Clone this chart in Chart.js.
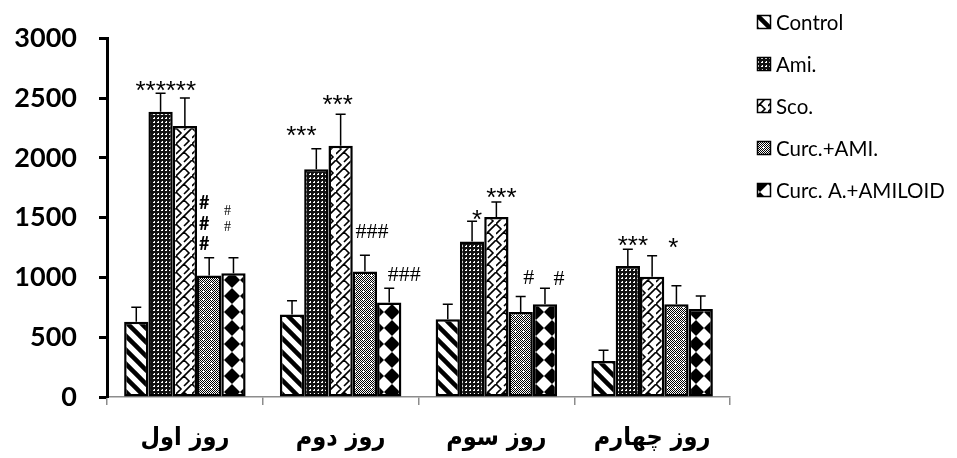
<!DOCTYPE html>
<html>
<head>
<meta charset="utf-8">
<script src="https://cdn.jsdelivr.net/npm/chart.js@4.4.1/dist/chart.umd.min.js"></script>
<style>
  html, body { margin: 0; padding: 0; background: #fff; }
  #wrap { width: 957px; height: 458px; }
</style>
</head>
<body>
<div id="wrap"><canvas id="c" width="957" height="458"></canvas></div>
<script>
// Days of the test
const categories = ['روز اول', 'روز دوم', 'روز سوم', 'روز چهارم'];
const seriesNames = ['Control', 'Ami.', 'Sco.', 'Curc.+AMI.', 'Curc. A.+AMILOID'];
const yTicks = [0, 500, 1000, 1500, 2000, 2500, 3000];

// Means per group
const control = [630, 690, 650, 300];
const ami = [2385, 1905, 1300, 1095];
const sco = [2265, 2100, 1505, 1005];
const curcAmi = [1015, 1050, 710, 775];
const curcA = [1035, 790, 775, 735];

// Error (upper whisker) per group
const controlErr = [120, 115, 125, 90];
const amiErr = [155, 170, 170, 140];
const scoErr = [235, 265, 125, 175];
const curcAmiErr = [150, 135, 130, 155];
const curcAErr = [130, 120, 135, 110];

// Significance marks: [series index, group index, text lines]
const marks = [
  [1, 0, ['***']], [2, 0, ['***']], [3, 0, ['#', '#', '#']], [4, 0, ['#', '#']],
  [1, 1, ['***']], [2, 1, ['***']], [3, 1, ['###']], [4, 1, ['###']],
  [1, 2, ['*']], [2, 2, ['***']], [3, 2, ['#']], [4, 2, ['#']],
  [1, 3, ['***']], [3, 3, ['*']]
];

// Placement of each mark relative to its bar centre / whisker top (px)
const STAR = '26px "Liberation Sans"';
const markStyle = [
  { dx: -10, dy: -1, font: STAR, lh: 0 },
  { dx: -4, dy: -6, font: STAR, lh: 0 },
  { dx: -5, dy: -13, font: 'bold 18px Lato', lh: 20.5 },
  { dx: -6, dy: -30, font: '14px "Liberation Serif"', lh: 16 },
  { dx: -15, dy: -12, font: STAR, lh: 0 },
  { dx: -3, dy: -8, font: STAR, lh: 0 },
  { dx: 7, dy: -23, font: '22px "Liberation Serif"', lh: 0 },
  { dx: 15, dy: -13, font: '22px "Liberation Serif"', lh: 0 },
  { dx: 5, dy: 0, font: STAR, lh: 0 },
  { dx: 5, dy: -3, font: STAR, lh: 0 },
  { dx: 8, dy: -18, font: '22px "Liberation Serif"', lh: 0 },
  { dx: 14, dy: -9, font: '22px "Liberation Serif"', lh: 0 },
  { dx: 5, dy: -2, font: STAR, lh: 0 },
  { dx: -3, dy: -37, font: STAR, lh: 0 }
];

const canvas = document.getElementById('c');
const ctx = canvas.getContext('2d');

function tile(size, draw) {
  const t = document.createElement('canvas');
  t.width = size; t.height = size;
  const g = t.getContext('2d');
  g.fillStyle = '#fff';
  g.fillRect(0, 0, size, size);
  draw(g, size);
  return ctx.createPattern(t, 'repeat');
}

// Fill patterns for the five groups
const patterns = [
  // diagonal stripes
  tile(14, (g, s) => {
    g.strokeStyle = '#000'; g.lineWidth = 4.5;
    for (let k = -s; k <= s; k += s) {
      g.beginPath(); g.moveTo(k - 2, -2); g.lineTo(k + s + 2, s + 2); g.stroke();
    }
  }),
  // dark mesh
  tile(4, (g, s) => {
    g.fillStyle = '#111'; g.fillRect(0, 0, s, s);
    g.fillStyle = '#fff'; g.fillRect(1, 1, 2, 2);
    g.fillStyle = '#333'; g.fillRect(1, 1, 1, 1);
  }),
  // zigzag
  tile(16, (g, s) => {
    g.strokeStyle = '#000'; g.lineWidth = 1.6;
    g.beginPath();
    g.moveTo(0, 16); g.lineTo(16, 0);
    g.moveTo(0, 0); g.lineTo(5, 5); g.lineTo(0, 10);
    g.moveTo(16, 0); g.lineTo(21, 5);
    g.moveTo(8, 8); g.lineTo(13, 13); g.lineTo(8, 18);
    g.moveTo(8, -8); g.lineTo(13, -3); g.lineTo(8, 2);
    g.stroke();
  }),
  // grey dotted with white specks
  tile(8, (g, s) => {
    g.fillStyle = '#000';
    for (let y = 0; y < s; y++) for (let x = 0; x < s; x++) if ((x + y) % 2 === 0) g.fillRect(x, y, 1, 1);
    g.fillStyle = '#fff';
    g.fillRect(3, 2, 1, 3); g.fillRect(2, 3, 3, 1);
  }),
  // diamonds
  tile(16, (g, s) => {
    g.fillStyle = '#000';
    g.beginPath(); g.moveTo(8, 0); g.lineTo(16, 8); g.lineTo(8, 16); g.lineTo(0, 8); g.closePath(); g.fill();
  })
];

const values = [control, ami, sco, curcAmi, curcA];
const errors = [controlErr, amiErr, scoErr, curcAmiErr, curcAErr];

const errorBars = {
  id: 'errorBars',
  afterDatasetsDraw(chart) {
    const y = chart.scales.y;
    const c = chart.ctx;
    c.save();
    c.strokeStyle = '#000';
    c.lineWidth = 1.5;
    chart.data.datasets.forEach((ds, i) => {
      chart.getDatasetMeta(i).data.forEach((bar, j) => {
        const top = y.getPixelForValue(ds.data[j] + errors[i][j]);
        c.beginPath();
        c.moveTo(bar.x, bar.y);
        c.lineTo(bar.x, top);
        c.moveTo(bar.x - 5, top);
        c.lineTo(bar.x + 5, top);
        c.stroke();
      });
    });
    // significance marks
    c.fillStyle = '#000';
    c.textAlign = 'center';
    c.textBaseline = 'middle';
    marks.forEach(([si, gi, lines], k) => {
      const st = markStyle[k];
      const bar = chart.getDatasetMeta(si).data[gi];
      const top = y.getPixelForValue(values[si][gi] + errors[si][gi]);
      c.font = st.font;
      const n = lines.length;
      lines.forEach((t, li) => {
        const yy = top + st.dy - (n - 1 - li) * st.lh;
        c.fillText(t, bar.x + st.dx, yy);
      });
    });
    c.restore();
  }
};

const sideLegend = {
  id: 'sideLegend',
  afterDraw(chart) {
    const c = chart.ctx;
    c.save();
    c.font = '20.5px Lato';
    c.textBaseline = 'middle';
    c.textAlign = 'left';
    seriesNames.forEach((name, i) => {
      const yc = 22 + i * 42;
      c.fillStyle = patterns[i];
      c.fillRect(757, yc - 7, 14, 14);
      c.strokeStyle = '#000';
      c.lineWidth = 1.5;
      c.strokeRect(757.5, yc - 6.5, 13, 13);
      c.fillStyle = '#000';
      c.fillText(name, 776, yc + 1);
    });
    c.restore();
  }
};

new Chart(ctx, {
  type: 'bar',
  data: {
    labels: categories,
    datasets: seriesNames.map((name, i) => ({
      label: name,
      data: values[i],
      backgroundColor: patterns[i],
      borderColor: '#000',
      borderWidth: 2.5,
      borderSkipped: false,
      barPercentage: 1,
      categoryPercentage: 0.78
    }))
  },
  options: {
    responsive: false,
    animation: false,
    devicePixelRatio: 1,
    layout: { padding: { top: 33, right: 227, left: 0, bottom: 0 } },
    plugins: { legend: { display: false }, tooltip: { enabled: false } },
    scales: {
      x: {
        grid: { display: true, drawOnChartArea: false, drawTicks: true, tickLength: 8, color: '#8c8c8c', lineWidth: 1.5, offset: true },
        border: { color: '#8c8c8c', width: 1.5 },
        ticks: { color: '#000', font: { family: '"DejaVu Sans Condensed", "DejaVu Sans"', size: 25, weight: 'bold' }, padding: 18, maxRotation: 0 },
        afterFit(s) { s.height = 61; }
      },
      y: {
        min: 0, max: 3000,
        afterBuildTicks(s) { s.ticks = yTicks.map(v => ({ value: v })); },
        grid: { drawOnChartArea: false, drawTicks: true, tickLength: 8, color: '#000', tickColor: '#000', tickWidth: 3 },
        border: { color: '#000', width: 3 },
        ticks: { color: '#000', font: { family: 'Lato', size: 27, weight: 'bold' }, padding: 22, callback: (v) => String(v) },
        afterFit(s) { s.width = 107; }
      }
    }
  },
  plugins: [errorBars, sideLegend]
});
</script>
</body>
</html>
